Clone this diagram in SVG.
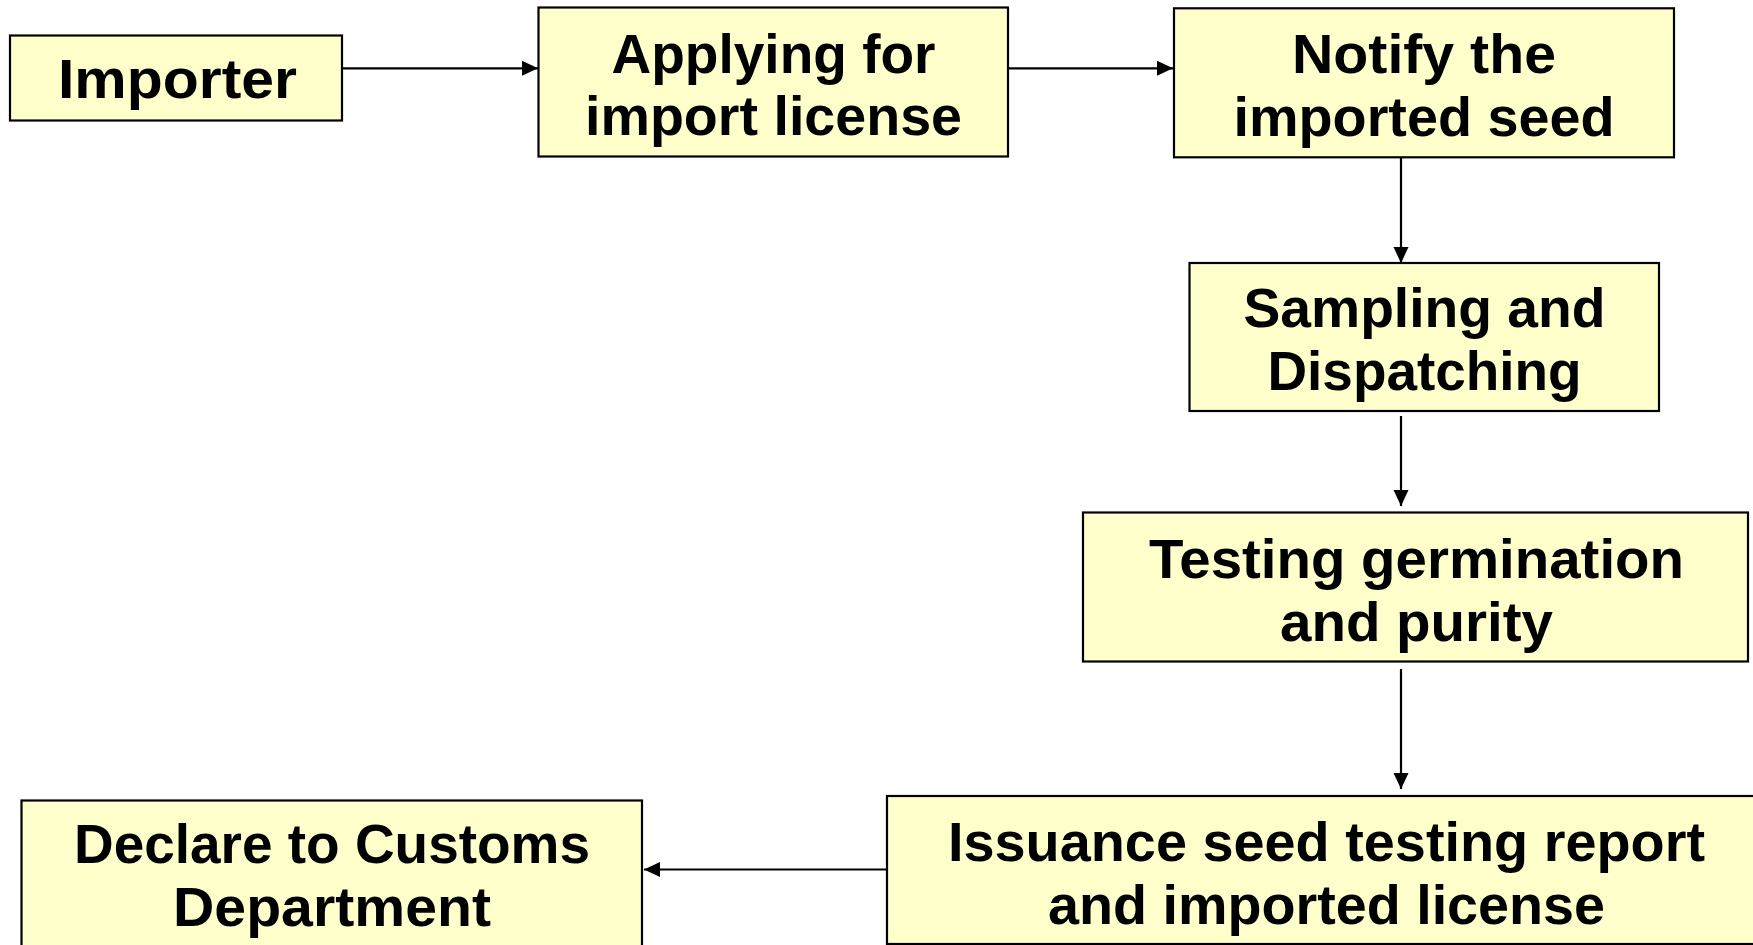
<svg xmlns="http://www.w3.org/2000/svg" width="1753" height="945" viewBox="0 0 1753 945">
<defs>
<style>
.box{fill:#FFFFCC;stroke:#000;stroke-width:2.2}
.t{font-family:"Liberation Sans","DejaVu Sans",sans-serif;font-weight:bold;font-size:55px;fill:#000;text-anchor:middle}
.c{stroke:#000;stroke-width:2.2;fill:none;marker-end:url(#ah)}
</style>
<marker id="ah" markerUnits="userSpaceOnUse" markerWidth="16" markerHeight="16" viewBox="0 0 16 15" refX="16" refY="7.5" orient="auto">
<path d="M0,0 L16,7.5 L0,15 Z" fill="#000"/>
</marker>
</defs>
<rect width="1753" height="945" fill="#fff"/>
<g id="connectors">
<line class="c" x1="342" y1="68.3" x2="538" y2="68.3"/>
<line class="c" x1="1008" y1="68.3" x2="1173" y2="68.3"/>
<line class="c" x1="1401" y1="158" x2="1401" y2="263"/>
<line class="c" x1="1401" y1="416" x2="1401" y2="506"/>
<line class="c" x1="1401" y1="669" x2="1401" y2="789"/>
<line class="c" x1="887" y1="869.5" x2="644" y2="869.5"/>
</g>
<g id="importer">
<rect class="box" x="10" y="35.5" width="332" height="85"/>
<text class="t" x="177.5" y="98" textLength="239" lengthAdjust="spacingAndGlyphs">Importer</text>
</g>
<g id="applying">
<rect class="box" x="538.5" y="7.5" width="469.5" height="149"/>
<text class="t" x="773.5" y="73" textLength="324" lengthAdjust="spacingAndGlyphs">Applying for</text>
<text class="t" x="773.5" y="135" textLength="377" lengthAdjust="spacingAndGlyphs">import license</text>
</g>
<g id="notify">
<rect class="box" x="1174" y="8.3" width="500" height="149"/>
<text class="t" x="1424" y="73" textLength="264" lengthAdjust="spacingAndGlyphs">Notify the</text>
<text class="t" x="1424" y="135.5" textLength="381" lengthAdjust="spacingAndGlyphs">imported seed</text>
</g>
<g id="sampling">
<rect class="box" x="1189.5" y="263" width="469.5" height="148"/>
<text class="t" x="1424.5" y="326.5" textLength="362" lengthAdjust="spacingAndGlyphs">Sampling and</text>
<text class="t" x="1424.5" y="390" textLength="314" lengthAdjust="spacingAndGlyphs">Dispatching</text>
</g>
<g id="testing">
<rect class="box" x="1083" y="512.5" width="665" height="149"/>
<text class="t" x="1416.5" y="578" textLength="535" lengthAdjust="spacingAndGlyphs">Testing germination</text>
<text class="t" x="1416.5" y="640.5" textLength="273" lengthAdjust="spacingAndGlyphs">and purity</text>
</g>
<g id="issuance">
<rect class="box" x="887" y="796" width="880" height="148"/>
<text class="t" x="1326.5" y="861" textLength="757" lengthAdjust="spacingAndGlyphs">Issuance seed testing report</text>
<text class="t" x="1326.5" y="923.5" textLength="557" lengthAdjust="spacingAndGlyphs">and imported license</text>
</g>
<g id="declare">
<rect class="box" x="21.5" y="800.5" width="620.5" height="160"/>
<text class="t" x="332" y="863" textLength="516" lengthAdjust="spacingAndGlyphs">Declare to Customs</text>
<text class="t" x="332" y="926" textLength="318" lengthAdjust="spacingAndGlyphs">Department</text>
</g>
</svg>
